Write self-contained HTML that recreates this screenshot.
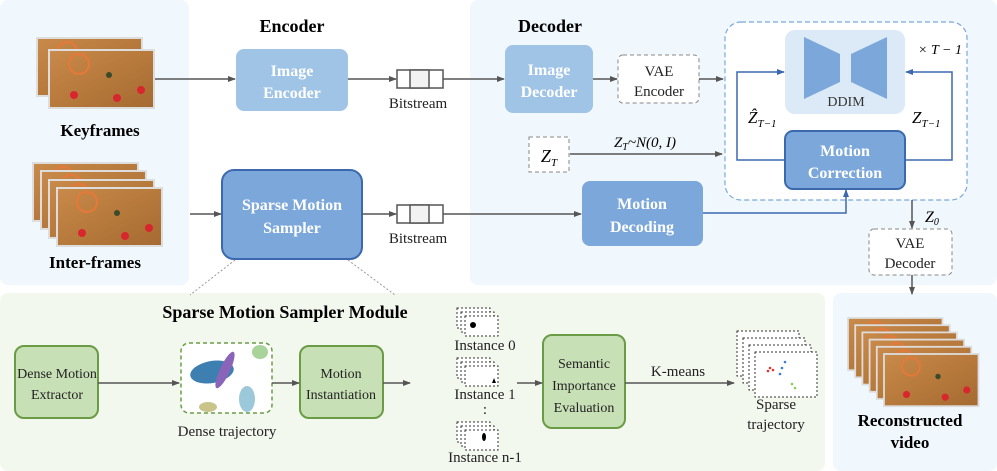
<!DOCTYPE html>
<html><head><meta charset="utf-8"><style>
body{margin:0;background:#fff}
svg{display:block;font-family:"Liberation Serif",serif}
.w{fill:#fff;font-weight:bold;font-size:16px;text-anchor:middle}
.t{font-size:15px;text-anchor:middle;fill:#222}
.s{font-size:14px;text-anchor:middle;fill:#222}
</style></head><body>
<svg width="997" height="471" viewBox="0 0 997 471" xmlns="http://www.w3.org/2000/svg">
<defs>
<marker id="a" markerWidth="8" markerHeight="8" refX="7" refY="4" orient="auto" markerUnits="userSpaceOnUse"><path d="M0,1 L8,4 L0,7 Z" fill="#555"/></marker>
<marker id="b" markerWidth="8" markerHeight="8" refX="7" refY="4" orient="auto" markerUnits="userSpaceOnUse"><path d="M0,1 L8,4 L0,7 Z" fill="#3c69ae"/></marker>
<linearGradient id="img" x1="0" y1="0" x2="1" y2="1"><stop offset="0" stop-color="#c98a4a"/><stop offset="0.5" stop-color="#b77a3c"/><stop offset="1" stop-color="#a56a32"/></linearGradient>
<g id="pic"><rect width="105" height="58" fill="url(#img)" stroke="#ddd" stroke-width="2"/><circle cx="30" cy="14" r="10" fill="none" stroke="#e8773a" stroke-width="2"/><circle cx="68" cy="48" r="4" fill="#d8262e"/><circle cx="25" cy="45" r="4" fill="#d8262e"/><circle cx="92" cy="40" r="4" fill="#d8262e"/><circle cx="60" cy="25" r="3" fill="#3a4a2a"/></g>
</defs>
<rect x="0" y="0" width="189" height="285" rx="8" fill="#f0f7fd"/>
<rect x="470" y="0" width="527" height="285" rx="8" fill="#f0f7fd"/>
<rect x="0" y="293" width="825" height="178" rx="8" fill="#f3f8ef"/>
<rect x="833" y="293" width="164" height="178" rx="8" fill="#f0f7fd"/>
<use href="#pic" x="37" y="38"/><use href="#pic" x="49" y="50"/>
<use href="#pic" x="33" y="163"/><use href="#pic" x="41" y="171"/><use href="#pic" x="49" y="180"/><use href="#pic" x="57" y="188"/>
<g transform="translate(848,318) scale(0.9)"><use href="#pic" x="0" y="0"/><use href="#pic" x="8" y="8"/><use href="#pic" x="16" y="16"/><use href="#pic" x="24" y="24"/><use href="#pic" x="32" y="32"/><use href="#pic" x="40" y="40"/></g>
<text x="100" y="136" font-size="17" font-weight="bold" text-anchor="middle">Keyframes</text>
<text x="95" y="268" font-size="17" font-weight="bold" text-anchor="middle">Inter-frames</text>
<text x="910" y="426" font-size="17" font-weight="bold" text-anchor="middle">Reconstructed</text>
<text x="910" y="448" font-size="17" font-weight="bold" text-anchor="middle">video</text>
<text x="292" y="32" font-size="18" font-weight="bold" text-anchor="middle">Encoder</text>
<text x="550" y="32" font-size="18" font-weight="bold" text-anchor="middle">Decoder</text>
<line x1="155" y1="79" x2="235" y2="79" stroke="#555" stroke-width="1.5" marker-end="url(#a)"/>
<rect x="236" y="49" width="112" height="62" rx="8" fill="#9fc4e6"/>
<text class="w" x="292" y="76">Image</text><text class="w" x="292" y="98">Encoder</text>
<line x1="348" y1="79" x2="396" y2="79" stroke="#555" stroke-width="1.5" marker-end="url(#a)"/>
<g stroke="#555" stroke-width="1.5" fill="#fff"><rect x="397" y="70" width="46" height="18"/><rect x="410" y="70" width="19" height="18" fill="#f2f2f2"/></g>
<text class="t" x="418" y="108">Bitstream</text>
<line x1="443" y1="79" x2="504" y2="79" stroke="#555" stroke-width="1.5" marker-end="url(#a)"/>
<rect x="505" y="45" width="88" height="68" rx="8" fill="#9fc4e6"/>
<text class="w" x="549" y="75">Image</text><text class="w" x="549" y="97">Decoder</text>
<line x1="593" y1="79" x2="617" y2="79" stroke="#555" stroke-width="1.5" marker-end="url(#a)"/>
<rect x="618" y="55" width="81" height="48" rx="5" fill="#fff" stroke="#888" stroke-dasharray="4,3"/>
<text class="t" x="659" y="76" fill="#555">VAE</text><text class="t" x="659" y="96" fill="#555">Encoder</text>
<line x1="699" y1="79" x2="723" y2="79" stroke="#555" stroke-width="1.5" marker-end="url(#a)"/>
<rect x="725" y="22" width="242" height="178" rx="16" fill="#fff" stroke="#7aa8dc" stroke-dasharray="5,3" stroke-width="1.2"/>
<rect x="785" y="30" width="120" height="84" rx="10" fill="#dceaf7"/>
<path d="M804,37 L840,54 L840,82 L804,99 Z" fill="#7ba7da"/>
<path d="M887,37 L851,54 L851,82 L887,99 Z" fill="#7ba7da"/>
<text x="846" y="106" font-size="14" text-anchor="middle" fill="#333">DDIM</text>
<text x="940" y="54" font-size="14" text-anchor="middle" font-style="italic">× T − 1</text>
<polyline points="785,160 737,160 737,72 784,72" fill="none" stroke="#3c69ae" stroke-width="1.5" marker-end="url(#b)"/>
<polyline points="905,160 952,160 952,72 906,72" fill="none" stroke="#3c69ae" stroke-width="1.5" marker-end="url(#b)"/>
<text x="748" y="123" font-size="17" font-style="italic">Ẑ<tspan font-size="11" dy="4">T−1</tspan></text>
<text x="912" y="123" font-size="17" font-style="italic">Z<tspan font-size="11" dy="4">T−1</tspan></text>
<rect x="785" y="131" width="120" height="58" rx="8" fill="#7ba7da" stroke="#3c69ae" stroke-width="2"/>
<text class="w" x="845" y="156">Motion</text><text class="w" x="845" y="178">Correction</text>
<rect x="529" y="137" width="40" height="35" fill="#fff" stroke="#888" stroke-dasharray="4,3"/>
<text x="549" y="162" font-size="18" font-style="italic" text-anchor="middle">Z<tspan font-size="11" dy="4">T</tspan></text>
<line x1="570" y1="154" x2="722" y2="154" stroke="#555" stroke-width="1.5" marker-end="url(#a)"/>
<text x="645" y="147" font-size="15" font-style="italic" text-anchor="middle">Z<tspan font-size="10" dy="3">T</tspan><tspan dy="-3">~N(0, I)</tspan></text>
<line x1="190" y1="214" x2="221" y2="214" stroke="#555" stroke-width="1.5" marker-end="url(#a)"/>
<rect x="222" y="170" width="140" height="89" rx="12" fill="#7ba7da" stroke="#3c69ae" stroke-width="2"/>
<text class="w" x="292" y="210">Sparse Motion</text><text class="w" x="292" y="233">Sampler</text>
<line x1="362" y1="214" x2="396" y2="214" stroke="#555" stroke-width="1.5" marker-end="url(#a)"/>
<g stroke="#555" stroke-width="1.5" fill="#fff"><rect x="397" y="205" width="46" height="18"/><rect x="410" y="205" width="19" height="18" fill="#f2f2f2"/></g>
<text class="t" x="418" y="243">Bitstream</text>
<line x1="443" y1="214" x2="581" y2="214" stroke="#555" stroke-width="1.5" marker-end="url(#a)"/>
<rect x="582" y="181" width="121" height="65" rx="8" fill="#7ba7da"/>
<text class="w" x="642" y="209">Motion</text><text class="w" x="642" y="232">Decoding</text>
<polyline points="703,213 846,213 846,190" fill="none" stroke="#3c69ae" stroke-width="1.5" marker-end="url(#b)"/>
<line x1="912" y1="200" x2="912" y2="228" stroke="#555" stroke-width="1.5" marker-end="url(#a)"/>
<text x="925" y="222" font-size="16" font-style="italic">Z<tspan font-size="10" dy="3">0</tspan></text>
<rect x="869" y="229" width="83" height="46" rx="5" fill="#fff" stroke="#888" stroke-dasharray="4,3"/>
<text class="t" x="910" y="248" fill="#555">VAE</text><text class="t" x="910" y="268" fill="#555">Decoder</text>
<line x1="912" y1="275" x2="912" y2="294" stroke="#555" stroke-width="1.5" marker-end="url(#a)"/>
<line x1="235" y1="260" x2="190" y2="295" stroke="#999" stroke-dasharray="2,2"/>
<line x1="348" y1="260" x2="395" y2="295" stroke="#999" stroke-dasharray="2,2"/>
<text x="285" y="318" font-size="18" font-weight="bold" text-anchor="middle">Sparse Motion Sampler Module</text>
<g fill="#c8e0b6" stroke="#6a9c45" stroke-width="2">
<rect x="15" y="346" width="83" height="72" rx="9"/>
<rect x="300" y="346" width="83" height="72" rx="9"/>
<rect x="543" y="335" width="82" height="93" rx="9"/>
</g>
<text x="57" y="378" class="s">Dense Motion</text><text x="57" y="399" class="s">Extractor</text>
<text x="341" y="378" class="s">Motion</text><text x="341" y="399" class="s">Instantiation</text>
<text x="584" y="368" class="s">Semantic</text><text x="584" y="390" class="s">Importance</text><text x="584" y="412" class="s">Evaluation</text>
<line x1="98" y1="383" x2="179" y2="383" stroke="#555" stroke-width="1.5" marker-end="url(#a)"/>
<rect x="181" y="343" width="91" height="70" rx="8" fill="#fff" stroke="#6a9c45" stroke-width="1.5" stroke-dasharray="4,3"/>
<ellipse cx="212" cy="372" rx="22" ry="11" fill="#3c7fb0" transform="rotate(-10 212 372)"/>
<ellipse cx="225" cy="370" rx="5" ry="20" fill="#8a64b8" transform="rotate(25 225 370)"/>
<ellipse cx="247" cy="399" rx="8" ry="13" fill="#9cc9d9"/>
<ellipse cx="260" cy="352" rx="8" ry="7" fill="#a8d49a"/>
<ellipse cx="208" cy="407" rx="9" ry="5" fill="#c8c48a"/>
<text class="t" x="227" y="436">Dense trajectory</text>
<line x1="272" y1="383" x2="299" y2="383" stroke="#555" stroke-width="1.5" marker-end="url(#a)"/>
<line x1="383" y1="383" x2="410" y2="383" stroke="#555" stroke-width="1.5" marker-end="url(#a)"/>
<g fill="#fff" stroke="#333" stroke-dasharray="2,2" stroke-width="1">
<rect x="457" y="308" width="33" height="20"/><rect x="461" y="312" width="33" height="20"/><rect x="465" y="316" width="33" height="20"/>
<rect x="457" y="358" width="33" height="20"/><rect x="461" y="362" width="33" height="20"/><rect x="465" y="366" width="33" height="20"/>
<rect x="457" y="422" width="33" height="20"/><rect x="461" y="426" width="33" height="20"/><rect x="465" y="430" width="33" height="20"/>
</g>
<circle cx="473" cy="325" r="3" fill="#000"/><path d="M492,383 L496,383 L494,378 Z" fill="#000"/><ellipse cx="484" cy="437" rx="2" ry="4" fill="#000"/>
<text class="t" x="485" y="350">Instance 0</text><text class="t" x="485" y="399">Instance 1</text>
<text class="t" x="485" y="414">:</text><text class="t" x="485" y="462">Instance n-1</text>
<line x1="517" y1="383" x2="542" y2="383" stroke="#555" stroke-width="1.5" marker-end="url(#a)"/>
<line x1="625" y1="383" x2="734" y2="383" stroke="#555" stroke-width="1.5" marker-end="url(#a)"/>
<text class="t" x="678" y="376">K-means</text>
<g fill="#fff" stroke="#333" stroke-dasharray="2,2" stroke-width="1">
<rect x="737" y="331" width="62" height="45"/><rect x="743" y="338" width="62" height="45"/><rect x="749" y="345" width="62" height="45"/><rect x="755" y="352" width="62" height="45"/>
</g>
<g fill="#d33"><circle cx="770" cy="368" r="1.3"/><circle cx="773" cy="370" r="1.3"/><circle cx="768" cy="371" r="1.3"/></g>
<g fill="#3a7cd0"><circle cx="785" cy="362" r="1.3"/><circle cx="782" cy="368" r="1.3"/><circle cx="780" cy="374" r="1.3"/></g>
<g fill="#8c5"><circle cx="792" cy="384" r="1.3"/><circle cx="795" cy="388" r="1.3"/></g>
<text class="t" x="776" y="409">Sparse</text><text class="t" x="776" y="429">trajectory</text>
</svg>
</body></html>
